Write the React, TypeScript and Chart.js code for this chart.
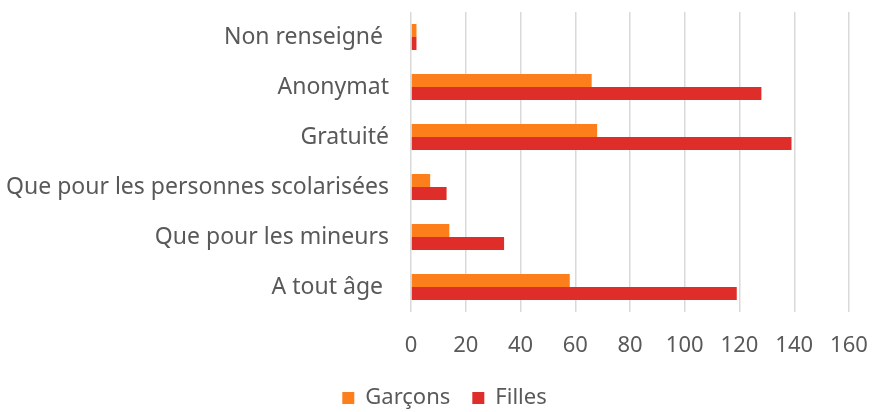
import React, { useEffect, useRef } from "react";
import { Chart, registerables } from "chart.js";

Chart.register(...registerables);

const categories = [
  "Non renseigné ",
  "Anonymat",
  "Gratuité",
  "Que pour les personnes scolarisées",
  "Que pour les mineurs",
  "A tout âge ",
];
const garcons = [2, 66, 68, 7, 14, 58];
const filles = [2, 128, 139, 13, 34, 119];
const xTicksMax = 160;
const xTickStep = 20;

const FONT = "'Noto Sans', sans-serif";
const TEXT = "#595959";

const legendShift = {
  id: "legendShift",
  afterLayout(chart: any) {
    if (chart.legend) {
      chart.legend.left += 20;
      chart.legend.right += 20;
    }
  },
};

export default function App() {
  const ref = useRef<HTMLCanvasElement | null>(null);
  useEffect(() => {
    if (!ref.current) return;
    const chart = new Chart(ref.current, {
      type: "bar",
      data: {
        labels: categories,
        datasets: [
          {
            label: "Garçons",
            data: garcons,
            backgroundColor: "#FD7F1C",
            categoryPercentage: 0.52,
            barPercentage: 1,
          },
          {
            label: "Filles",
            data: filles,
            backgroundColor: "#DF2E2A",
            categoryPercentage: 0.52,
            barPercentage: 1,
          },
        ],
      },
      plugins: [legendShift],
      options: {
        indexAxis: "y",
        animation: false,
        responsive: false,
        maintainAspectRatio: false,
        layout: { padding: { top: 12, right: 23, left: 0, bottom: -7 } },
        plugins: {
          tooltip: { enabled: false },
          legend: {
            position: "bottom",
            labels: {
              color: TEXT,
              font: { family: FONT, size: 22 },
              boxWidth: 12,
              boxHeight: 12,
              padding: 22,
            },
          },
        },
        scales: {
          x: {
            min: 0,
            max: xTicksMax,
            ticks: {
              stepSize: xTickStep,
              color: TEXT,
              font: { family: FONT, size: 22 },
              padding: 21,
            },
            grid: { color: "#D9D9D9", lineWidth: 1.5, drawTicks: false },
            border: { display: false },
            afterFit: (s: any) => {
              s.height = 53;
              s.paddingRight = 0;
              s.paddingLeft = 0;
            },
          },
          y: {
            ticks: {
              color: TEXT,
              font: { family: FONT, size: 23 },
              padding: 22,
            },
            grid: { display: false, drawTicks: false },
            border: { display: false },
            afterFit: (s: any) => {
              s.width = 411;
              s.paddingTop = 0;
              s.paddingBottom = 0;
            },
          },
        },
      },
    });
    return () => chart.destroy();
  }, []);
  return (
    <div style={{ position: "fixed", left: 0, top: 0, width: 872, height: 412, background: "#fff" }}>
      <canvas ref={ref} width={872} height={412} />
    </div>
  );
}
